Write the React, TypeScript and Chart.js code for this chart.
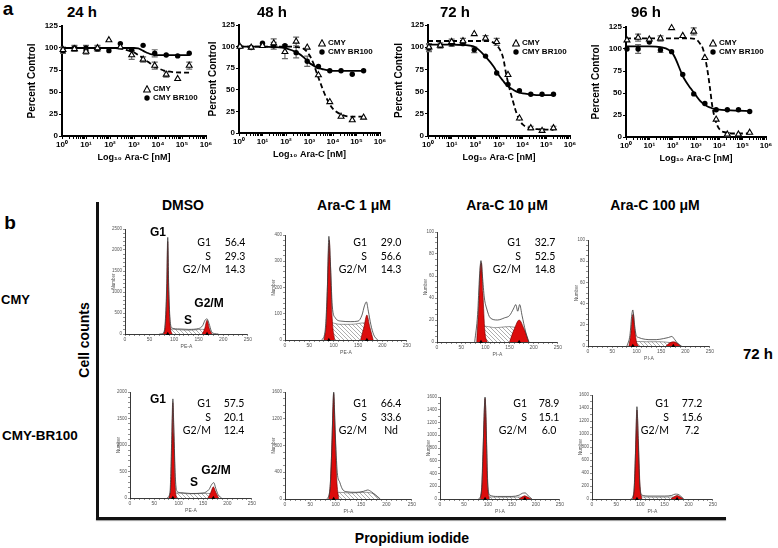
import React, { useEffect, useRef } from "react";
import { Chart, registerables } from "chart.js";
Chart.register(...registerables);

const FONT = "'Liberation Sans', Arial, sans-serif";
const TFONT = "Lato, 'Open Sans', sans-serif";

// ---------------- Panel a data ----------------
const doses = [1.1, 3.3, 10, 30, 90, 270, 800, 2400, 7300, 22000, 66000, 200000];
const fitDoses = [1, 3, 10, 30, 100, 300, 600, 1000, 1500, 2000, 3000, 4000, 5000, 7000, 10000, 20000, 50000, 200000];
const decadePowers = [0, 1, 2, 3, 4, 5, 6];
const percentTicks = [0, 25, 50, 75, 100, 125];
const timeLabels = ["24 h", "48 h", "72 h", "96 h"];

const cmy24 = [98, 99, 96, 100, 109, 101, 92, 87, 80, 70, 65, 80];
const br24 = [97, 100, 100, 99, 97, 105, 98, 103, 94, 92, 91, 94];
const cmy24Err = [3, 3, 3, 3, 0, 0, 5, 3, 4, 3, 0, 4];
const br24Err = [3, 3, 3, 3, 0, 0, 0, 0, 4, 0, 0, 0];
const cmy24Fit = [100, 100, 100, 100, 100, 99, 97, 95, 92, 90, 86, 84, 82, 79, 77, 74, 72.5, 72];
const br24Fit = [100, 100, 100, 100, 100, 100, 100, 100, 99.5, 98, 95.5, 94, 93, 92.5, 92, 92, 92, 92];

const cmy48 = [100, 99, 101, 104, 94, 106, 99, 67, 36, 19, 15, 18];
const br48 = [100, 99, 104, 101, 101, 93, 83, 77, 72, 72, 68, 72];
const cmy48Err = [0, 0, 0, 5, 8, 5, 0, 0, 0, 0, 0, 0];
const br48Err = [0, 0, 0, 4, 0, 6, 6, 0, 0, 0, 0, 0];
const cmy48Fit = [100, 100, 100, 100, 100, 99.5, 97, 90, 80, 70, 57, 48, 42, 34, 28, 22, 19, 19];
const br48Fit = [100, 100, 100, 99.5, 98, 93, 87, 81, 78, 76, 74.5, 73.5, 73, 72.5, 72, 72, 72, 72];

const cmy72 = [100, 102, 106, 107, 115, 110, 106, 69, 20, 9, 6, 9];
const br72 = [99, 102, 104, 104, 97, 90, 71, 58, 51, 47, 47, 47];
const cmy72Err = [4, 3, 3, 3, 0, 3, 4, 0, 0, 2, 2, 2];
const br72Err = [4, 0, 3, 0, 3, 0, 0, 0, 0, 0, 0, 0];
const cmy72Fit = [107, 107, 107, 107, 107, 107, 105, 99, 88, 70, 50, 38, 29, 19, 13, 9, 7.5, 7];
const br72Fit = [103, 103, 103, 102.5, 100, 88, 78, 68, 62, 58, 54, 52, 50.5, 49, 48, 47, 46, 46];

const cmy96 = [110, 113, 111, 112, 124, 115, 120, 90, 20, 3, 3, 5];
const br96 = [100, 100, 108, 99, 97, 71, 49, 38, 31, 31, 31, 29];
const cmy96Err = [0, 4, 0, 3, 0, 0, 4, 0, 0, 2, 0, 0];
const br96Err = [0, 5, 0, 3, 0, 0, 0, 0, 0, 0, 0, 0];
const cmy96Fit = [112, 112, 112, 112, 112, 112, 112, 111, 106, 100, 78, 55, 35, 18, 9, 5, 4, 4];
const br96Fit = [103, 103, 103, 102, 95, 67, 55, 47, 41, 38, 35, 33.5, 32.5, 31.5, 31, 30.5, 30, 29.5];

// ---------------- Panel b data ----------------
type Pt = [number, number];
const phases = ["G1", "S", "G2/M"];
const colTitles = ["DMSO", "Ara-C 1 \u03bcM", "Ara-C 10 \u03bcM", "Ara-C 100 \u03bcM"];
const cmyDmsoPct = ["56.4", "29.3", "14.3"];
const cmy1Pct = ["29.0", "56.6", "14.3"];
const cmy10Pct = ["32.7", "52.5", "14.8"];
const brDmsoPct = ["57.5", "20.1", "12.4"];
const br1Pct = ["66.4", "33.6", "Nd"];
const br10Pct = ["78.9", "15.1", "6.0"];
const br100Pct = ["77.2", "15.6", "7.2"];

const h1Raw: Pt[] = [[70, 0], [78, 20], [82, 300], [85, 1200], [87, 2300], [89, 1100], [92, 300], [96, 140], [110, 120], [130, 110], [150, 130], [158, 200], [163, 330], [167, 360], [171, 250], [176, 60], [182, 10], [190, 0]];
const h1G1: Pt[] = [[78, 0], [82, 200], [85, 1000], [87, 2200], [89, 1000], [92, 200], [96, 0]];
const h1G2: Pt[] = [[157, 0], [162, 120], [167, 330], [172, 120], [177, 0]];
const h1S: Pt[] = [[82, 0], [88, 120], [100, 110], [130, 90], [155, 110], [168, 100], [175, 0]];
const h1Marks = [87, 167];

const h2Raw: Pt[] = [[75, 0], [82, 30], [87, 200], [90, 395], [93, 300], [97, 130], [103, 85], [115, 72], [135, 70], [150, 72], [158, 95], [163, 130], [167, 145], [171, 110], [176, 60], [182, 20], [190, 0]];
const h2G1: Pt[] = [[80, 0], [85, 80], [89, 330], [91, 380], [93, 300], [97, 80], [102, 0]];
const h2G2: Pt[] = [[155, 0], [162, 50], [168, 95], [174, 50], [181, 0]];
const h2S: Pt[] = [[85, 0], [92, 65], [110, 60], [140, 60], [160, 65], [170, 60], [178, 0]];
const h2Marks = [90, 168];

const h3Raw: Pt[] = [[78, 0], [84, 25], [88, 60], [91, 74], [94, 60], [98, 40], [103, 30], [110, 22], [125, 20], [140, 22], [150, 24], [158, 30], [163, 34], [167, 28], [171, 34], [176, 24], [183, 10], [190, 0]];
const h3G1: Pt[] = [[82, 0], [86, 30], [90, 70], [92, 72], [95, 45], [99, 10], [104, 0]];
const h3G2: Pt[] = [[150, 0], [160, 12], [170, 20], [180, 12], [190, 0]];
const h3S: Pt[] = [[88, 0], [95, 14], [120, 13], [150, 14], [170, 12], [185, 0]];
const h3Marks = [91, 170];

const h4Raw: Pt[] = [[80, 0], [86, 10], [90, 30], [92, 34], [95, 22], [99, 10], [104, 8], [110, 7], [125, 6], [140, 6], [155, 7], [165, 8], [172, 9], [178, 6], [185, 2], [192, 0]];
const h4G1: Pt[] = [[84, 0], [88, 12], [91, 28], [93, 30], [96, 15], [100, 3], [104, 0]];
const h4G2: Pt[] = [[160, 0], [168, 3], [175, 4], [182, 3], [190, 0]];
const h4S: Pt[] = [[90, 0], [96, 4], [120, 4], [150, 4], [170, 3], [180, 0]];
const h4Marks = [92, 175];

const h5Raw: Pt[] = [[76, 0], [82, 100], [85, 900], [88, 1870], [90, 1300], [93, 400], [97, 120], [105, 100], [125, 85], [150, 95], [162, 160], [168, 260], [172, 290], [176, 180], [181, 60], [188, 0]];
const h5G1: Pt[] = [[80, 0], [84, 300], [87, 1500], [88, 1800], [90, 1200], [93, 200], [96, 0]];
const h5G2: Pt[] = [[160, 0], [166, 110], [171, 210], [176, 110], [182, 0]];
const h5S: Pt[] = [[85, 0], [92, 90], [120, 80], [150, 85], [170, 80], [178, 0]];
const h5Marks = [88, 171];

const h6Raw: Pt[] = [[82, 0], [88, 100], [92, 700], [96, 1600], [99, 1000], [103, 400], [108, 250], [113, 150], [120, 110], [140, 100], [155, 115], [163, 135], [170, 110], [178, 60], [187, 0]];
const h6G1: Pt[] = [[86, 0], [90, 300], [94, 1200], [96, 1580], [98, 1200], [102, 300], [106, 0]];
const h6G2: Pt[] = [];
const h6S: Pt[] = [[92, 0], [100, 95], [130, 90], [160, 100], [175, 80], [188, 0]];
const h6Marks = [96];

const h7Raw: Pt[] = [[80, 0], [86, 80], [90, 800], [94, 1600], [97, 900], [100, 200], [104, 60], [120, 40], [150, 40], [165, 60], [172, 90], [178, 95], [184, 50], [192, 0]];
const h7G1: Pt[] = [[84, 0], [88, 300], [92, 1300], [94, 1580], [96, 1300], [99, 300], [103, 0]];
const h7G2: Pt[] = [[165, 0], [171, 30], [177, 50], [183, 30], [190, 0]];
const h7S: Pt[] = [[90, 0], [96, 30], [130, 28], [160, 30], [175, 25], [185, 0]];
const h7Marks = [94, 177];

const h8Raw: Pt[] = [[80, 0], [86, 60], [90, 700], [93, 1420], [96, 800], [99, 200], [103, 60], [120, 45], [150, 45], [165, 55], [172, 75], [178, 72], [184, 40], [190, 0]];
const h8G1: Pt[] = [[84, 0], [88, 250], [91, 1000], [93, 1370], [96, 900], [99, 250], [103, 0]];
const h8G2: Pt[] = [[163, 0], [170, 35], [176, 55], [182, 35], [189, 0]];
const h8S: Pt[] = [[90, 0], [96, 30], [130, 28], [160, 30], [175, 25], [185, 0]];
const h8Marks = [93, 176];

// ---------------- helpers ----------------
const SUP: Record<string, string> = { "0": "\u2070", "1": "\u00b9", "2": "\u00b2", "3": "\u00b3", "4": "\u2074", "5": "\u2075", "6": "\u2076" };

const errorBars = {
  id: "errorBars",
  beforeDatasetsDraw(chart: any) {
    const ctx = chart.ctx;
    const ys = chart.scales.y;
    chart.data.datasets.forEach((ds: any, di: number) => {
      if (!ds.errors) return;
      const meta = chart.getDatasetMeta(di);
      meta.data.forEach((pt: any, i: number) => {
        const e = ds.errors[i];
        if (!e) return;
        const v = ds.data[i].y;
        const y1 = ys.getPixelForValue(v + e);
        const y2 = ys.getPixelForValue(v - e);
        ctx.save();
        ctx.strokeStyle = "#6a6a6a";
        ctx.lineWidth = 1.2;
        ctx.beginPath();
        ctx.moveTo(pt.x, y1); ctx.lineTo(pt.x, y2);
        ctx.moveTo(pt.x - 3, y1); ctx.lineTo(pt.x + 3, y1);
        ctx.moveTo(pt.x - 3, y2); ctx.lineTo(pt.x + 3, y2);
        ctx.stroke();
        ctx.restore();
      });
    });
  },
};

function logTicks() {
  const out: { value: number }[] = [];
  decadePowers.forEach((p) => {
    if (p === 6) { out.push({ value: Math.pow(10, p) }); return; }
    for (let m = 1; m <= 9; m++) out.push({ value: m * Math.pow(10, p) });
  });
  return out;
}

function xy(xs: number[], ys: number[]) {
  return xs.map((x, i) => ({ x, y: ys[i] }));
}

function doseConfig(cmy: number[], br: number[], cmyErr: number[], brErr: number[], cmyFit: number[], brFit: number[], yw: number) {
  const bold = (size: number) => ({ family: FONT, weight: "bold" as const, size });
  return {
    type: "line",
    data: {
      datasets: [
        { data: xy(doses, cmy), showLine: false, pointStyle: "triangle", pointRadius: 3.4, backgroundColor: "#fff", borderColor: "#000", borderWidth: 1.1, errors: cmyErr, clip: false, order: 0 },
        { data: xy(doses, br), showLine: false, pointStyle: "circle", pointRadius: 2.7, backgroundColor: "#000", borderColor: "#000", borderWidth: 0, errors: brErr, clip: false, order: 1 },
        { data: xy(fitDoses, cmyFit), borderColor: "#000", borderWidth: 1.8, borderDash: [5, 3], pointRadius: 0, cubicInterpolationMode: "monotone", fill: false, order: 2 },
        { data: xy(fitDoses, brFit), borderColor: "#000", borderWidth: 1.8, pointRadius: 0, cubicInterpolationMode: "monotone", fill: false, order: 2 },
      ],
    },
    options: {
      animation: false, responsive: false, devicePixelRatio: 1,
      layout: { padding: { top: 6, right: 8, left: 0, bottom: 0 } },
      plugins: { legend: { display: false }, tooltip: { enabled: false } },
      scales: {
        x: {
          type: "logarithmic", min: 1, max: 1e6,
          afterFit: (s: any) => { s.height = 28; },
          afterBuildTicks: (s: any) => { s.ticks = logTicks(); },
          ticks: {
            autoSkip: false, maxRotation: 0, minRotation: 0, padding: 1, color: "#000", font: bold(8),
            callback: (v: number) => {
              const l = Math.log10(v);
              const r = Math.round(l);
              return Math.abs(l - r) < 1e-6 ? "10" + SUP[String(r)] : "";
            },
          },
          grid: { display: true, drawOnChartArea: false, drawTicks: true, tickLength: 3, color: "#000", lineWidth: 1 },
          border: { display: true, color: "#000", width: 2 },
          title: { display: true, text: "Log\u2081\u2080 Ara-C [nM]", color: "#000", font: bold(9), padding: { top: 0, bottom: 1 } },
        },
        y: {
          type: "linear", min: 0, max: 125,
          afterFit: (s: any) => { s.width = yw; },
          afterBuildTicks: (s: any) => { s.ticks = percentTicks.map((v) => ({ value: v })); },
          ticks: { padding: 1, color: "#000", font: bold(8) },
          grid: { display: true, drawOnChartArea: false, drawTicks: true, tickLength: 3, color: "#000", lineWidth: 1 },
          border: { display: true, color: "#000", width: 2 },
          title: { display: true, text: "Percent Control", color: "#000", font: bold(10), padding: { top: 0, bottom: 0 } },
        },
      },
    },
    plugins: [errorBars],
  };
}

function makeHatch(): any {
  const c = document.createElement("canvas");
  c.width = 4; c.height = 4;
  const g = c.getContext("2d") as CanvasRenderingContext2D;
  g.fillStyle = "#fff"; g.fillRect(0, 0, 4, 4);
  g.strokeStyle = "#777"; g.lineWidth = 0.6;
  g.beginPath();
  g.moveTo(0, 0); g.lineTo(4, 4);
  g.moveTo(-1, 3); g.lineTo(1, 5);
  g.moveTo(3, -1); g.lineTo(5, 1);
  g.stroke();
  return g.createPattern(c, "repeat");
}

function pts(a: Pt[]) { return a.map(([x, y]) => ({ x, y })); }

function histConfig(h: any) {
  const small = (size: number) => ({ family: FONT, size });
  return {
    type: "line",
    data: {
      datasets: [
        { data: h.marks.map((x: number) => ({ x, y: 0 })), showLine: false, pointStyle: "triangle", pointRadius: 2.2, backgroundColor: "#000", borderColor: "#000", borderWidth: 0, clip: false, order: -1 },
        { data: pts(h.raw), borderColor: "#3a3a3a", borderWidth: 0.8, pointRadius: 0, cubicInterpolationMode: "monotone", fill: false, order: 0 },
        { data: pts(h.g1), borderColor: "#6a0000", borderWidth: 0.6, backgroundColor: "#dc0c0c", fill: "origin", pointRadius: 0, cubicInterpolationMode: "monotone", order: 1 },
        { data: pts(h.g2), borderColor: "#6a0000", borderWidth: 0.6, backgroundColor: "#dc0c0c", fill: "origin", pointRadius: 0, cubicInterpolationMode: "monotone", order: 1 },
        { data: pts(h.s), borderColor: "#555", borderWidth: 0.6, backgroundColor: makeHatch(), fill: "origin", pointRadius: 0, tension: 0.2, order: 2 },
      ],
    },
    options: {
      animation: false, responsive: false, devicePixelRatio: 1,
      layout: { padding: { top: 4, right: 5, left: 0, bottom: 0 } },
      plugins: { legend: { display: false }, tooltip: { enabled: false } },
      scales: {
        x: {
          type: "linear", min: 0, max: 250,
          afterFit: (s: any) => { s.height = 16; },
          ticks: { stepSize: 10, autoSkip: false, maxRotation: 0, padding: 1, color: "#555", font: small(5), callback: (v: number) => (v % 50 === 0 ? String(v) : "") },
          grid: { display: true, drawOnChartArea: false, drawTicks: true, tickLength: 2, color: "#444", lineWidth: 0.6 },
          border: { display: true, color: "#222", width: 0.9 },
          title: { display: true, text: h.xTitle, color: "#555", font: small(5), padding: { top: 0, bottom: 0 } },
        },
        y: {
          type: "linear", min: 0, max: h.yMax,
          afterFit: (s: any) => { s.width = 14; },
          ticks: { stepSize: h.yStep, autoSkip: false, padding: 1, color: "#555", font: small(4.5), callback: (v: number) => (v % h.yLab === 0 ? String(v) : "") },
          grid: { display: true, drawOnChartArea: false, drawTicks: true, tickLength: 2, color: "#444", lineWidth: 0.6 },
          border: { display: true, color: "#222", width: 0.9 },
          title: { display: true, text: "Number", color: "#555", font: small(4.5), padding: { top: 0, bottom: 0 } },
        },
      },
    },
  };
}

function ChartBox({ x, y, w, h, make }: any) {
  const ref = useRef<HTMLCanvasElement>(null);
  useEffect(() => {
    const c = new Chart(ref.current as HTMLCanvasElement, make());
    return () => c.destroy();
  }, []);
  return <canvas ref={ref} width={w} height={h} style={{ position: "absolute", left: x, top: y, width: w, height: h }} />;
}

function Txt({ x, y, children, size = 12, bold = true, align = "center", family = FONT, rotate = 0 }: any) {
  const tx = align === "center" ? "-50%" : align === "right" ? "-100%" : "0";
  return (
    <div style={{ position: "absolute", left: x, top: y, transform: `translate(${tx},-50%) rotate(${rotate}deg)`, fontFamily: family, fontSize: size, fontWeight: bold ? 700 : 400, whiteSpace: "nowrap", lineHeight: 1, color: "#000" }}>
      {children}
    </div>
  );
}

function LegendItem({ x, y, shape, label }: any) {
  return (
    <>
      <svg style={{ position: "absolute", left: x - 4, top: y - 4 }} width={8} height={8}>
        {shape === "tri" ? <polygon points="4,0.8 7.4,7 0.6,7" fill="#fff" stroke="#000" strokeWidth={1.1} /> : <circle cx={4} cy={4} r={2.7} fill="#000" />}
      </svg>
      <Txt x={x + 6} y={y} size={8} align="left">{label}</Txt>
    </>
  );
}

const dosePanels = [
  { plot: { l: 62, t: 26, r: 206, b: 136 }, yw: 36, cmy: cmy24, br: br24, ce: cmy24Err, be: br24Err, cf: cmy24Fit, bf: br24Fit, title: { x: 82 }, leg: { x: 147, y: 89 } },
  { plot: { l: 239, t: 25, r: 380, b: 133 }, yw: 32, cmy: cmy48, br: br48, ce: cmy48Err, be: br48Err, cf: cmy48Fit, bf: br48Fit, title: { x: 272 }, leg: { x: 322, y: 43 } },
  { plot: { l: 428, t: 25, r: 570, b: 136 }, yw: 35, cmy: cmy72, br: br72, ce: cmy72Err, be: br72Err, cf: cmy72Fit, bf: br72Fit, title: { x: 455 }, leg: { x: 516, y: 43 } },
  { plot: { l: 626, t: 27, r: 766, b: 137 }, yw: 36, cmy: cmy96, br: br96, ce: cmy96Err, be: br96Err, cf: cmy96Fit, bf: br96Fit, title: { x: 646 }, leg: { x: 713, y: 43 } },
];

const hists = [
  { box: { l: 125, t: 229, r: 248, b: 334 }, yMax: 2500, yStep: 100, yLab: 500, raw: h1Raw, g1: h1G1, g2: h1G2, s: h1S, marks: h1Marks, xTitle: "PE-A", pct: cmyDmsoPct, tbl: { r: 211, c: 235, y: 242 } },
  { box: { l: 285, t: 235, r: 407, b: 340 }, yMax: 400, yStep: 20, yLab: 100, raw: h2Raw, g1: h2G1, g2: h2G2, s: h2S, marks: h2Marks, xTitle: "PE-A", pct: cmy1Pct, tbl: { r: 367, c: 391, y: 242 } },
  { box: { l: 437, t: 232, r: 558, b: 342 }, yMax: 100, yStep: 5, yLab: 20, raw: h3Raw, g1: h3G1, g2: h3G2, s: h3S, marks: h3Marks, xTitle: "PI-A", pct: cmy10Pct, tbl: { r: 521, c: 545, y: 242 } },
  { box: { l: 588, t: 240, r: 710, b: 346 }, yMax: 100, yStep: 5, yLab: 20, raw: h4Raw, g1: h4G1, g2: h4G2, s: h4S, marks: h4Marks, xTitle: "PI-A", pct: null, tbl: null },
  { box: { l: 130, t: 392, r: 252, b: 498 }, yMax: 2000, yStep: 100, yLab: 500, raw: h5Raw, g1: h5G1, g2: h5G2, s: h5S, marks: h5Marks, xTitle: "PE-A", pct: brDmsoPct, tbl: { r: 211, c: 234, y: 403 } },
  { box: { l: 285, t: 392, r: 412, b: 499 }, yMax: 1600, yStep: 100, yLab: 400, raw: h6Raw, g1: h6G1, g2: h6G2, s: h6S, marks: h6Marks, xTitle: "PI-A", pct: br1Pct, tbl: { r: 367, c: 391, y: 403 } },
  { box: { l: 440, t: 397, r: 560, b: 499 }, yMax: 1600, yStep: 100, yLab: 200, raw: h7Raw, g1: h7G1, g2: h7G2, s: h7S, marks: h7Marks, xTitle: "PI-A", pct: br10Pct, tbl: { r: 527, c: 549, y: 403 } },
  { box: { l: 592, t: 395, r: 713, b: 499 }, yMax: 1600, yStep: 100, yLab: 200, raw: h8Raw, g1: h8G1, g2: h8G2, s: h8S, marks: h8Marks, xTitle: "PI-A", pct: br100Pct, tbl: { r: 669, c: 692, y: 403 } },
];

const colTitleX = [183, 354, 507, 655];

export default function App() {
  return (
    <div style={{ position: "fixed", left: 0, top: 0, width: 778, height: 548, background: "#fff", overflow: "hidden" }}>
      {/* Panel a */}
      <Txt x={8} y={8} size={19}>a</Txt>
      {dosePanels.map((p, i) => (
        <React.Fragment key={"a" + i}>
          <ChartBox x={p.plot.l - p.yw} y={p.plot.t - 6} w={p.yw + (p.plot.r - p.plot.l) + 8} h={6 + (p.plot.b - p.plot.t) + 28}
            make={() => doseConfig(p.cmy, p.br, p.ce, p.be, p.cf, p.bf, p.yw)} />
          <Txt x={p.title.x} y={11} size={15}>{timeLabels[i]}</Txt>
          <LegendItem x={p.leg.x} y={p.leg.y} shape="tri" label="CMY" />
          <LegendItem x={p.leg.x} y={p.leg.y + 9} shape="dot" label="CMY BR100" />
        </React.Fragment>
      ))}

      {/* Panel b */}
      <Txt x={10} y={222} size={19}>b</Txt>
      {colTitles.map((t, i) => (
        <Txt key={"ct" + i} x={colTitleX[i]} y={205} size={14}>{t}</Txt>
      ))}
      <div style={{ position: "absolute", left: 96, top: 202, width: 3, height: 318, background: "#111" }} />
      <div style={{ position: "absolute", left: 96, top: 517, width: 630, height: 3, background: "#111", boxShadow: "0 1px 1px #999" }} />
      <Txt x={1} y={299} size={13} align="left">CMY</Txt>
      <Txt x={2} y={436} size={13.5} align="left">CMY-BR100</Txt>
      <Txt x={84} y={340} size={14} rotate={-90}>Cell counts</Txt>
      <Txt x={758} y={353} size={15}>72 h</Txt>
      <Txt x={412} y={538} size={14}>Propidium iodide</Txt>

      {hists.map((h, i) => (
        <React.Fragment key={"h" + i}>
          <ChartBox x={h.box.l - 14} y={h.box.t - 4} w={14 + (h.box.r - h.box.l) + 5} h={4 + (h.box.b - h.box.t) + 16} make={() => histConfig(h)} />
          {h.tbl && h.pct && phases.map((ph, k) => (
            <React.Fragment key={"t" + k}>
              <Txt x={h.tbl!.r} y={h.tbl!.y + k * 13.5} size={10.5} bold={false} align="right" family={TFONT}>{ph}</Txt>
              <Txt x={h.tbl!.c} y={h.tbl!.y + k * 13.5} size={10.5} bold={false} family={TFONT}>{h.pct![k]}</Txt>
            </React.Fragment>
          ))}
        </React.Fragment>
      ))}

      {/* phase annotations */}
      <Txt x={158} y={232} size={12}>G1</Txt>
      <Txt x={209} y={303} size={12}>G2/M</Txt>
      <Txt x={188} y={320} size={12}>S</Txt>
      <Txt x={158} y={399} size={12}>G1</Txt>
      <Txt x={216} y={470} size={12}>G2/M</Txt>
      <Txt x={194} y={482} size={12}>S</Txt>
    </div>
  );
}
